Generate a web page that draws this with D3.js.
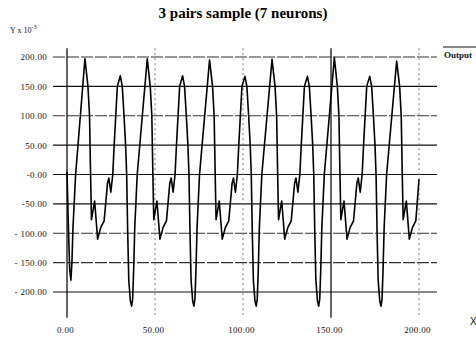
<!DOCTYPE html>
<html>
<head>
<meta charset="utf-8">
<script src="https://cdn.jsdelivr.net/npm/d3@7"></script>
<style>
  body { margin: 0; background: #fff; }
  svg { display: block; font-family: "Liberation Serif", "DejaVu Serif", serif; }
</style>
</head>
<body>
<div id="chart"></div>
<script>
const TITLE = '3 pairs sample (7 neurons)';
const SERIES_NAME = 'Output';

const xTicks = [0, 50, 100, 150, 200];
const xTickLabels = ['0.00', '50.00', '100.00', '150.00', '200.00'];
const yTicks = [200, 150, 100, 50, 0, -50, -100, -150, -200];
const yTickLabels = ['200.00', '150.00', '100.00', '50.00', '-0.00', '-50.00', '- 100.00', '- 150.00', '- 200.00'];

// [x, y x 10^-3]
const outputSeries = [
  [0, 5], [0.8, -90], [1.5, -160], [2.2, -180], [2.8, -150], [3.4, -90], [4.9, 0],
  [10.2, 197], [11.9, 150], [12.8, 100], [13.4, 0], [13.9, -77], [15.7, -45], [17.4, -110], [19.2, -90],
  [21.1, -79], [23.0, -15], [23.8, -6], [24.9, -30], [26.0, 0], [26.8, 50], [28.6, 150], [30.3, 168],
  [31.4, 150], [32.4, 100], [33.3, 50], [33.9, 0], [34.5, -100], [35.1, -180], [36.0, -215], [36.7, -224],
  [37.3, -212], [37.9, -160], [38.5, -90], [39.9, 0],
  [45.6, 197], [47.3, 150], [48.2, 100], [48.8, 0], [49.3, -77], [51.1, -45], [52.8, -110], [54.6, -90],
  [56.5, -79], [58.4, -15], [59.2, -6], [60.3, -30], [61.4, 0], [62.2, 50], [64.0, 150], [65.7, 168],
  [66.8, 150], [67.8, 100], [68.7, 50], [69.3, 0], [69.9, -100], [70.5, -180], [71.4, -215], [72.1, -224],
  [72.7, -212], [73.3, -160], [73.9, -90], [75.3, 0],
  [81.0, 195], [82.7, 150], [83.6, 100], [84.2, 0], [84.7, -77], [86.5, -45], [88.2, -110], [90.0, -90],
  [91.9, -79], [93.8, -15], [94.6, -6], [95.7, -30], [96.8, 0], [97.6, 50], [99.4, 150], [101.1, 167],
  [102.2, 150], [103.2, 100], [104.1, 50], [104.7, 0], [105.3, -100], [105.9, -180], [106.8, -215], [107.5, -224],
  [108.1, -212], [108.7, -160], [109.3, -90], [110.7, 0],
  [116.5, 196], [118.2, 150], [119.1, 100], [119.7, 0], [120.2, -77], [122.0, -45], [123.7, -110], [125.5, -90],
  [127.4, -79], [129.3, -15], [130.1, -6], [131.2, -30], [132.3, 0], [133.1, 50], [134.9, 150], [136.6, 167],
  [137.7, 150], [138.7, 100], [139.6, 50], [140.2, 0], [140.8, -100], [141.4, -180], [142.3, -215], [143.0, -224],
  [143.6, -212], [144.2, -160], [144.8, -90], [146.2, 0],
  [151.9, 199], [153.6, 150], [154.5, 100], [155.1, 0], [155.6, -77], [157.4, -45], [159.1, -110], [160.9, -90],
  [162.8, -79], [164.7, -15], [165.5, -6], [166.6, -30], [167.7, 0], [168.5, 50], [170.3, 150], [172.0, 167],
  [173.1, 150], [174.1, 100], [175.0, 50], [175.6, 0], [176.2, -100], [176.8, -180], [177.7, -215], [178.4, -224],
  [179.0, -212], [179.6, -160], [180.2, -90], [181.6, 0],
  [187.3, 193], [189.0, 150], [189.9, 100], [190.5, 0], [191.0, -77], [192.8, -45], [194.5, -110], [196.3, -90],
  [198.2, -79], [200.0, -8]
];

// canvas
var width = 476, height = 341;
var svg = d3.select('#chart')
  .append('svg')
  .attr('width', width)
  .attr('height', height);

// scales
var x = d3.scaleLinear().domain([0, 200]).range([67, 419]);
var y = d3.scaleLinear().domain([-200, 200]).range([292, 57]);

var gridLeft = x(0) - 14, gridRight = x(200) + 18;
var gridTop = y(215), gridBottom = y(-244);

// horizontal grid lines (some look broken in the scan)
var dashedY = [200, 100, -100, -150];
svg.append('g')
  .attr('class', 'grid-h')
  .selectAll('line')
  .data(yTicks)
  .enter()
  .append('line')
  .attr('x1', gridLeft)
  .attr('x2', gridRight)
  .attr('y1', d => y(d))
  .attr('y2', d => y(d))
  .style('stroke', d => dashedY.indexOf(d) >= 0 ? '#333' : '#111')
  .style('stroke-width', 1.2)
  .style('stroke-dasharray', d => dashedY.indexOf(d) >= 0 ? '12,2' : null);

// vertical grid lines: 0 and 150 solid, rest dotted
var solidX = [0, 150];
svg.append('g')
  .attr('class', 'grid-v')
  .selectAll('line')
  .data(xTicks)
  .enter()
  .append('line')
  .attr('x1', d => x(d))
  .attr('x2', d => x(d))
  .attr('y1', gridTop)
  .attr('y2', gridBottom)
  .style('stroke', d => solidX.indexOf(d) >= 0 ? '#111' : '#777')
  .style('stroke-width', d => solidX.indexOf(d) >= 0 ? 1.3 : 1)
  .style('stroke-dasharray', d => solidX.indexOf(d) >= 0 ? null : '2,3');

// Y axis labels
var yAxis = d3.axisLeft(y)
  .tickValues(yTicks)
  .tickSize(0)
  .tickPadding(0)
  .tickFormat((d, i) => yTickLabels[i]);

svg.append('g')
  .attr('class', 'y axis')
  .attr('transform', 'translate(47,0)')
  .call(yAxis)
  .call(g => g.select('.domain').remove())
  .selectAll('text')
  .style('font-family', '"Liberation Serif", serif')
  .style('font-size', '9px')
  .style('letter-spacing', '0.3px')
  .style('fill', '#111');

// X axis labels
var xAxis = d3.axisBottom(x)
  .tickValues(xTicks)
  .tickSize(0)
  .tickPadding(0)
  .tickFormat((d, i) => xTickLabels[i]);

svg.append('g')
  .attr('class', 'x axis')
  .attr('transform', 'translate(-2,327)')
  .call(xAxis)
  .call(g => g.select('.domain').remove())
  .selectAll('text')
  .style('font-family', '"Liberation Serif", serif')
  .style('font-size', '9px')
  .style('letter-spacing', '0.3px')
  .style('fill', '#111');

// the output line
var valueline = d3.line()
  .x(d => x(d[0]))
  .y(d => y(d[1]));

svg.append('path')
  .attr('class', 'line output')
  .style('stroke', '#000')
  .style('stroke-width', 1.6)
  .style('stroke-linejoin', 'round')
  .style('fill', 'none')
  .attr('d', valueline(outputSeries));

// title
svg.append('text')
  .attr('x', 243)
  .attr('y', 18)
  .attr('text-anchor', 'middle')
  .style('font-size', '15px')
  .style('font-weight', 'bold')
  .style('fill', '#000')
  .text(TITLE);

// Y unit label
var yl = svg.append('text')
  .attr('x', 10)
  .attr('y', 33)
  .style('font-size', '8px')
  .style('fill', '#111');
yl.append('tspan').text('Y x 10');
yl.append('tspan').attr('dy', -4).style('font-size', '6px').text('-3');

// X label
svg.append('text')
  .attr('x', 470)
  .attr('y', 325)
  .style('font-family', '"Liberation Sans", sans-serif')
  .style('font-size', '10px')
  .style('fill', '#111')
  .text('X');

// legend
svg.append('line')
  .attr('x1', 443).attr('x2', 476)
  .attr('y1', 47).attr('y2', 47)
  .style('stroke', '#111')
  .style('stroke-width', 1.2);

svg.append('text')
  .attr('x', 444)
  .attr('y', 58)
  .style('font-size', '9px')
  .style('font-weight', 'bold')
  .style('fill', '#111')
  .text(SERIES_NAME);
</script>
</body>
</html>
